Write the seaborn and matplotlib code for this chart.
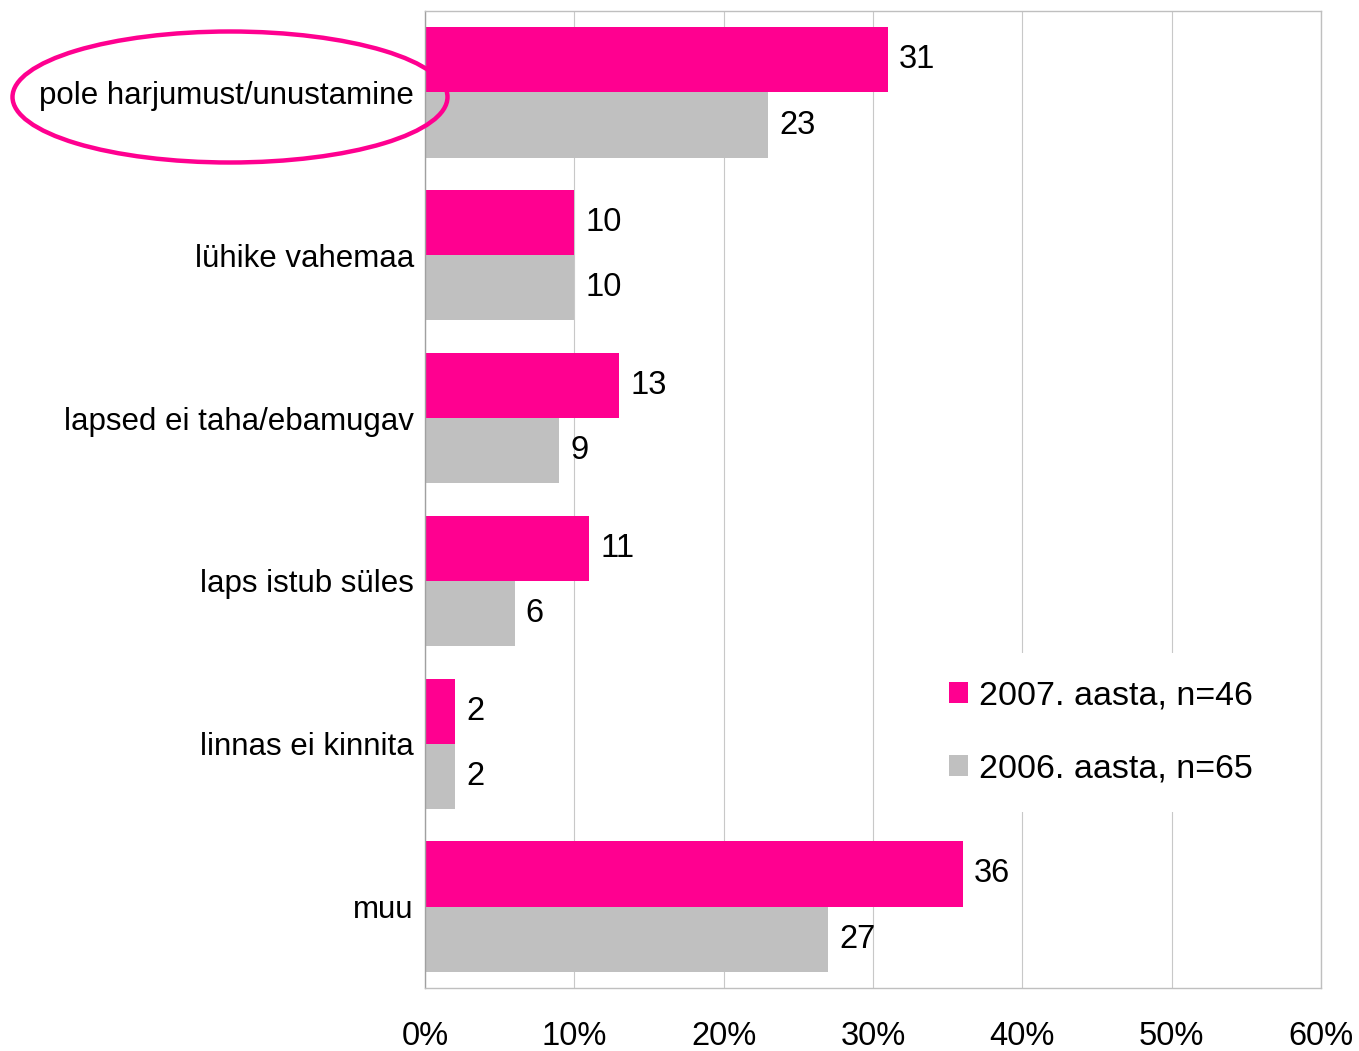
import pandas as pd
import matplotlib.pyplot as plt
import seaborn as sns
from matplotlib.patches import Ellipse, Patch

# andmed
categories = ['pole harjumust/unustamine', 'lühike vahemaa', 'lapsed ei taha/ebamugav',
              'laps istub süles', 'linnas ei kinnita', 'muu']
values_2007 = [31, 10, 13, 11, 2, 36]
values_2006 = [23, 10, 9, 6, 2, 27]
series = ['2007. aasta, n=46', '2006. aasta, n=65']
colors = ['#FF0090', '#C0C0C0']
xticks = [0, 10, 20, 30, 40, 50, 60]

df = pd.DataFrame({
    'kategooria': categories * 2,
    'aasta': [series[0]] * len(categories) + [series[1]] * len(categories),
    'protsent': values_2007 + values_2006,
})

sns.set_theme(style='white')
plt.rcParams['font.family'] = ['Liberation Sans', 'DejaVu Sans']
plt.rcParams['text.color'] = 'black'
plt.rcParams['xtick.color'] = 'black'
plt.rcParams['ytick.color'] = 'black'

fig = plt.figure(figsize=(13.59, 10.51), dpi=100)
ax = fig.add_axes([0.3127, 0.0600, 0.6593, 0.9295])

sns.barplot(data=df, x='protsent', y='kategooria', hue='aasta', order=categories,
            hue_order=series, palette=colors, orient='h', width=0.8, saturation=1,
            linewidth=0, edgecolor='none', ax=ax, legend=False)

for cont in ax.containers:
    ax.bar_label(cont, fmt='%d', padding=8, fontsize=23.5, color='black')

ax.set_xlim(0, 60)
ax.set_ylim(5.5, -0.5)
ax.set_xticks(xticks)
ax.set_xticklabels([f'{t}%' for t in xticks], fontsize=23.5, color='black')
ax.tick_params(axis='x', length=0, pad=24, labelcolor='black')
ax.tick_params(axis='y', length=0, pad=8, labelsize=22.5, labelcolor='black')
ax.set_xlabel('')
ax.set_ylabel('')
ax.grid(axis='x', color='#C8C8C8', linewidth=0.8)
ax.set_axisbelow(True)
for side in ['top', 'right', 'bottom']:
    ax.spines[side].set_color('#BFBFBF')
    ax.spines[side].set_linewidth(1)
ax.spines['left'].set_color('#A0A0A0')
ax.spines['left'].set_linewidth(1)

handles = [Patch(facecolor=c, edgecolor='none') for c in colors]
leg = ax.legend(handles, series, loc='center left', bbox_to_anchor=(0.678, 0.303),
                bbox_transform=fig.transFigure, fontsize=24.5, frameon=True,
                facecolor='white', edgecolor='none', framealpha=1, borderpad=0.8,
                handlelength=0.57, handleheight=0.57, handletextpad=0.33,
                labelspacing=1.25, borderaxespad=0)
leg.get_frame().set_linewidth(0)
for t in leg.get_texts():
    t.set_color('black')

# esimese kategooria ümber roosa ellips
ell = Ellipse((230 / 1359, 1 - 97 / 1051), 435 / 1359, 131 / 1051,
              transform=fig.transFigure, fill=False, edgecolor='#FF0090',
              linewidth=3.2, zorder=10)
fig.add_artist(ell)

fig.savefig('out.png', dpi=100)
